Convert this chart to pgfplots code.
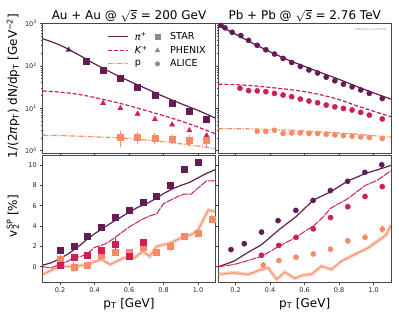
\documentclass[border=0pt]{standalone}
\usepackage{fontspec}
\setmainfont{DejaVu Sans}
\usepackage{pgfplots}
\pgfplotsset{compat=1.18}
\definecolor{cpi}{RGB}{100,28,84}
\definecolor{cka}{RGB}{205,30,85}
\definecolor{cpr}{RGB}{246,140,100}
\definecolor{axgray}{RGB}{70,70,70}
\pgfplotsset{
  every axis/.append style={
    scale only axis, width=172.5pt, anchor=south west,
    xmin=0.1, xmax=1.1,
    axis line style={draw=axgray, line width=0.8pt},
    tick style={axgray, line width=0.6pt},
    tick align=outside, major tick length=2.5pt, minor tick length=1.5pt,
    xtick={0.2,0.4,0.6,0.8,1.0},
    ticklabel style={font=\fontsize{6.5}{7}\selectfont, text=black!85},
    xtick pos=bottom, ytick pos=left,
  },
  pil/.style={cpi, line width=1.2pt, solid},
  kal/.style={cka, line width=1.2pt, dash pattern=on 4pt off 2pt},
  prl/.style={cpr, line width=1.2pt, dash pattern=on 5pt off 1.5pt on 1pt off 1.5pt},
  kalb/.style={cka, line width=1pt, dash pattern=on 7pt off 1pt},
  prlb/.style={cpr, line width=1pt, solid},
  prband/.style={cpr, line width=4pt, opacity=0.35},
}
\begin{document}
\begin{tikzpicture}
% ---------------- top left: Au+Au spectra
\begin{axis}[at={(42.75pt,166pt)}, height=129.5pt, ymode=log, ymin=0.88, ymax=1000,
  ytick={1,10,100,1000},
  minor ytick={2,3,4,5,6,7,8,9,20,30,40,50,60,70,80,90,200,300,400,500,600,700,800,900},
  xticklabels={},
  yticklabels={10\textsuperscript{0},10\textsuperscript{1},10\textsuperscript{2},10\textsuperscript{3}},
  legend image code/.code={\draw[mark repeat=2,mark phase=2,#1] plot coordinates {(0pt,0pt) (10pt,0pt) (20pt,0pt)};},
  legend columns=2,
  legend style={draw=none, fill=none, at={(0.975,0.965)}, anchor=north east,
    font=\fontsize{9.6}{11}\selectfont, row sep=0.3pt,
    /tikz/every odd column/.append style={column sep=4pt},
    /tikz/every even column/.append style={column sep=5pt}},
  legend cell align=left]
\addlegendimage{pil}\addlegendentry{\textit{π}\textsuperscript{+}}
\addlegendimage{only marks, mark=square*, mark size=2.6pt, black!45}\addlegendentry{\hspace{4pt}STAR}
\addlegendimage{kal}\addlegendentry{\textit{K}\textsuperscript{+}}
\addlegendimage{only marks, mark=triangle*, mark size=2.8pt, black!45}\addlegendentry{\hspace{4pt}PHENIX}
\addlegendimage{prl}\addlegendentry{p}
\addlegendimage{only marks, mark=*, mark size=2.3pt, black!45}\addlegendentry{\hspace{4pt}ALICE}
\addplot[pil, no marks, smooth, forget plot] coordinates {(0.1,436)(0.2,309)(0.3,190)(0.4,112)(0.5,69)(0.6,44)(0.7,29)(0.8,19)(0.9,12.9)(1.0,8.9)(1.1,5.9)};
\addplot[kal, no marks, smooth, forget plot] coordinates {(0.1,25.6)(0.2,24)(0.3,21.5)(0.4,18)(0.5,14.5)(0.6,11.5)(0.7,8.8)(0.8,6.7)(0.9,5.0)(1.0,3.6)(1.1,2.5)};
\addplot[prl, no marks, smooth, forget plot] coordinates {(0.1,2.3)(0.2,2.27)(0.3,2.2)(0.4,2.12)(0.5,2.04)(0.6,1.92)(0.7,1.78)(0.8,1.62)(0.9,1.45)(1.0,1.28)(1.1,1.11)};
\addplot[forget plot, only marks, mark=square*, mark size=3pt, cpi] coordinates {(0.35,132)(0.45,81)(0.55,50)(0.65,32)(0.75,20)(0.85,13)(0.95,8.7)(1.05,5.6)};
\addplot[forget plot, only marks, mark=triangle*, mark size=3pt, cpi] coordinates {(0.25,240)};
\addplot[forget plot, only marks, mark=triangle*, mark size=3pt, cka] coordinates {(0.45,13.1)(0.55,10)(0.65,7.4)(0.75,5.5)(0.85,4.1)(0.95,3.0)(1.05,2.27)};
\addplot[forget plot, only marks, mark=square*, mark size=3pt, cpr, error bars/.cd, y dir=both, y explicit, error mark=none, error bar style={line width=1pt}] coordinates {(0.55,2.1)+-(0,0.85)(0.65,2.1)+-(0,0.7)(0.75,2.0)+-(0,0.6)(0.85,1.9)+-(0,0.5)(0.95,1.8)+-(0,0.5)(1.05,1.75)+-(0,0.5)};
\end{axis}
% ---------------- top right: Pb+Pb spectra
\begin{axis}[at={(218.4pt,166pt)}, height=129.5pt, ymode=log, ymin=0.88, ymax=1000,
  ytick={1,10,100,1000},
  minor ytick={2,3,4,5,6,7,8,9,20,30,40,50,60,70,80,90,200,300,400,500,600,700,800,900},
  xticklabels={}, yticklabels={}]
\addplot[pil, no marks, smooth] coordinates {(0.1,900)(0.2,560)(0.3,340)(0.4,215)(0.5,140)(0.6,97)(0.7,68)(0.8,48)(0.9,33)(1.0,23)(1.1,16.5)};
\addplot[kal, no marks, smooth] coordinates {(0.1,37)(0.2,36)(0.3,34)(0.4,31)(0.5,28)(0.6,24.6)(0.7,20.5)(0.8,16)(0.9,11.5)(1.0,8.5)(1.1,6.3)};
\addplot[prl, no marks, smooth] coordinates {(0.1,3.3)(0.2,3.3)(0.3,3.25)(0.4,3.15)(0.5,3.05)(0.6,2.9)(0.7,2.75)(0.8,2.6)(0.9,2.45)(1.0,2.25)(1.1,2.1)};
\addplot[only marks, mark=*, mark size=2.6pt, cpi] coordinates {(0.115,900)(0.138,790)(0.18,620)(0.23,519)(0.275,400)(0.325,305)(0.375,240)(0.425,190)(0.475,150)(0.525,120)(0.575,97)(0.625,80)(0.675,68)(0.725,54)(0.775,44.5)(0.825,37)(0.875,32)(0.925,27)(0.975,22.5)(1.05,17)};
\addplot[only marks, mark=*, mark size=2.6pt, cka] coordinates {(0.225,29.7)(0.275,26)(0.325,25.7)(0.375,24.6)(0.425,22.4)(0.475,20.5)(0.525,18.7)(0.575,16.5)(0.625,14.8)(0.675,13.5)(0.725,11.9)(0.775,10.8)(0.825,9.9)(0.875,9.1)(0.925,8.0)(0.975,6.9)(1.05,5.6)};
\addplot[only marks, mark=*, mark size=2.6pt, cpr] coordinates {(0.325,2.87)(0.375,2.83)(0.425,3.03)(0.475,2.54)(0.525,2.62)(0.575,2.62)(0.625,2.54)(0.675,2.54)(0.725,2.44)(0.775,2.35)(0.825,2.27)(0.875,2.19)(0.925,2.1)(0.975,2.04)(1.05,1.93)};
\node[anchor=north east, font=\fontsize{2.5}{3}\selectfont, text=black!50] at (rel axis cs:0.995,0.99) {SMASH-2.0.1.1-g107f085};
\end{axis}
% ---------------- bottom left: Au+Au v2
\begin{axis}[at={(42.75pt,37pt)}, height=127pt, ymin=-1.5, ymax=11, ytick={0,2,4,6,8,10},
  yticklabels={0,2,4,6,8,10}, xticklabels={0.2,0.4,0.6,0.8,1.0}]
\addplot[prband, no marks] coordinates {(0.1,-0.75)(0.2,0.06)(0.277,0.0)(0.354,0.22)(0.44,0.71)(0.49,0.22)(0.57,0.87)(0.63,0.87)(0.68,1.52)(0.72,1.03)(0.76,2.0)(0.84,2.34)(0.90,2.82)(0.96,3.15)(1.0,3.63)(1.06,5.58)(1.1,5.42)};
\addplot[prlb, no marks] coordinates {(0.1,-0.75)(0.2,0.06)(0.277,0.0)(0.354,0.22)(0.44,0.71)(0.49,0.22)(0.57,0.87)(0.63,0.87)(0.68,1.52)(0.72,1.03)(0.76,2.0)(0.84,2.34)(0.90,2.82)(0.96,3.15)(1.0,3.63)(1.06,5.58)(1.1,5.42)};
\addplot[pil, no marks] coordinates {(0.1,0.15)(0.15,0.4)(0.2,0.8)(0.25,1.3)(0.3,1.9)(0.35,2.6)(0.4,3.25)(0.45,3.8)(0.5,4.35)(0.55,4.85)(0.6,5.35)(0.65,5.85)(0.7,6.2)(0.75,6.65)(0.8,7.2)(0.85,7.65)(0.9,8.0)(0.95,8.3)(1.0,8.75)(1.05,9.2)(1.1,9.55)};
\addplot[kalb, no marks] coordinates {(0.1,0.0)(0.15,-0.1)(0.2,0.25)(0.24,0.5)(0.28,0.9)(0.32,1.0)(0.36,1.3)(0.4,1.9)(0.44,2.1)(0.48,2.4)(0.52,2.9)(0.56,3.4)(0.6,3.9)(0.64,4.3)(0.68,4.7)(0.72,5.0)(0.76,5.2)(0.8,6.2)(0.84,6.55)(0.88,6.9)(0.92,7.15)(0.96,7.15)(1.0,7.75)(1.05,8.45)(1.1,8.45)};
\addplot[only marks, mark=square*, mark size=3pt, cpr, error bars/.cd, y dir=both, y explicit, error mark=none, error bar style={line width=1pt}] coordinates {(0.2,0.78)+-(0,0.4)(0.28,0.0)+-(0,0.5)(0.36,0.13)+-(0,0.3)(0.44,1.1)+-(0,0.3)(0.52,1.46)+-(0,0.2)(0.6,1.46)+-(0,0.2)(0.68,1.9)+-(0,0.2)(0.76,1.46)+-(0,0.3)(0.84,2.0)+-(0,0.4)(0.92,3.0)+-(0,0.3)(1.0,3.3)+-(0,0.3)(1.08,4.7)+-(0,0.4)};
\addplot[only marks, mark=square*, mark size=3pt, cka, error bars/.cd, y dir=both, y explicit, error mark=none, error bar style={line width=1pt}] coordinates {(0.2,0.13)+-(0,0.2)(0.28,0.94)+-(0,0.1)(0.36,1.17)+-(0,0.1)(0.44,1.62)+-(0,0.1)(0.52,2.2)+-(0,0.7)(0.6,1.03)+-(0,0.1)(0.68,2.4)+-(0,0.3)};
\addplot[only marks, mark=square*, mark size=3pt, cpi] coordinates {(0.2,1.59)(0.28,2.0)(0.36,2.98)(0.44,3.93)(0.52,4.87)(0.6,5.6)(0.68,6.36)(0.76,6.95)(0.84,8.05)(0.92,9.65)(1.0,10.26)};
\end{axis}
% ---------------- bottom right: Pb+Pb v2
\begin{axis}[at={(218.4pt,37pt)}, height=127pt, ymin=-1.5, ymax=11, ytick={0,2,4,6,8,10},
  yticklabels={}, xticklabels={0.2,0.4,0.6,0.8,1.0}]
\addplot[prband, no marks] coordinates {(0.1,-0.75)(0.186,-0.59)(0.273,-0.75)(0.34,-0.33)(0.389,-0.1)(0.437,-1.24)(0.485,-0.52)(0.543,-1.14)(0.59,-0.82)(0.639,-0.75)(0.697,0.06)(0.755,-0.26)(0.813,0.55)(0.9,1.3)(0.967,1.85)(1.034,2.66)(1.073,3.15)(1.1,4.1)};
\addplot[prlb, no marks] coordinates {(0.1,-0.75)(0.186,-0.59)(0.273,-0.75)(0.34,-0.33)(0.389,-0.1)(0.437,-1.24)(0.485,-0.52)(0.543,-1.14)(0.59,-0.82)(0.639,-0.75)(0.697,0.06)(0.755,-0.26)(0.813,0.55)(0.9,1.3)(0.967,1.85)(1.034,2.66)(1.073,3.15)(1.1,4.1)};
\addplot[pil, no marks] coordinates {(0.1,0.0)(0.19,0.55)(0.27,1.4)(0.35,2.17)(0.45,3.63)(0.55,4.93)(0.65,6.56)(0.75,7.37)(0.85,8.44)(0.95,9.16)(1.1,9.97)};
\addplot[kalb, no marks] coordinates {(0.1,0.0)(0.19,0.22)(0.27,0.6)(0.35,1.03)(0.45,2.0)(0.55,2.9)(0.62,3.7)(0.65,4.0)(0.7,4.77)(0.75,5.75)(0.85,6.7)(0.95,8.0)(1.02,8.5)(1.1,9.45)};
\addplot[only marks, mark=*, mark size=2.6pt, cpr, error bars/.cd, y dir=both, y explicit, error mark=none, error bar style={line width=1pt}] coordinates {(0.36,0.16)+-(0,0.3)(0.45,0.61)+-(0,0.1)(0.55,0.94)+-(0,0.1)(0.65,1.26)+-(0,0.1)(0.75,1.72)+-(0,0.15)(0.85,2.56)+-(0,0.3)(0.95,2.89)+-(0,0.3)(1.05,3.7)+-(0,0.4)};
\addplot[only marks, mark=*, mark size=2.6pt, cka] coordinates {(0.35,1.13)(0.45,2.1)(0.55,2.89)(0.65,3.73)(0.75,4.84)(0.85,5.91)(0.95,6.92)(1.05,7.89)};
\addplot[only marks, mark=*, mark size=2.6pt, cpi, error bars/.cd, y dir=both, y explicit, error mark=none, error bar style={line width=1pt}] coordinates {(0.173,1.69)+-(0,0.1)(0.25,2.27)+-(0,0.1)(0.35,3.41)+-(0,0.1)(0.446,4.54)+-(0,0.1)(0.549,5.55)+-(0,0.1)(0.649,6.53)+-(0,0.1)(0.749,7.5)+-(0,0.1)(0.849,8.41)+-(0,0.1)(0.949,9.29)+-(0,0.15)(1.047,10.04)+-(0,0.3)};
\end{axis}
% ---------------- titles and labels
\node[anchor=base, font=\fontsize{12}{14}\selectfont] at (129pt,299pt) {Au + Au @ \(\sqrt{\textit{s}}\) = 200 GeV};
\node[anchor=base, font=\fontsize{12}{14}\selectfont] at (304.7pt,299pt) {Pb + Pb @ \(\sqrt{\textit{s}}\) = 2.76 TeV};
\node[anchor=base, font=\fontsize{12}{14}\selectfont] at (129pt,12pt) {p\textsubscript{T} [GeV]};
\node[anchor=base, font=\fontsize{12}{14}\selectfont] at (304.7pt,12pt) {p\textsubscript{T} [GeV]};
\node[rotate=90, anchor=base, font=\fontsize{12}{14}\selectfont] at (17pt,233pt) {1/(2\textit{π}p\textsubscript{T}) dN/dp\textsubscript{T} [GeV\textsuperscript{−2}]};
\node[rotate=90, anchor=base, font=\fontsize{12}{14}\selectfont] at (17pt,103pt) {v\rlap{\textsubscript{2}}\textsuperscript{SP} [\%]};
\pgfresetboundingbox
\path[use as bounding box] (0,0) rectangle (399pt,319pt);
\end{tikzpicture}
\end{document}
